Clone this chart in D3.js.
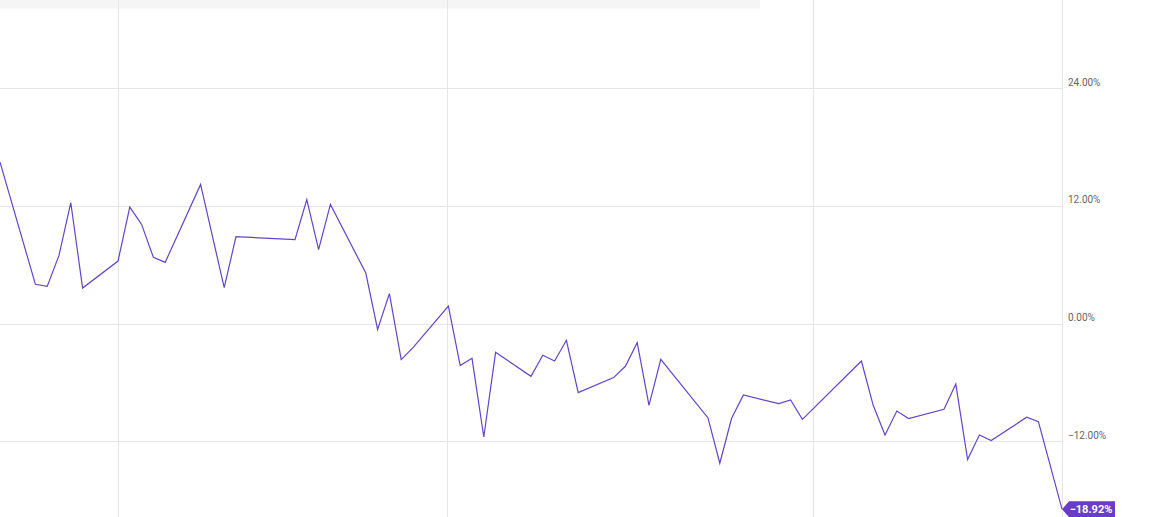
<!DOCTYPE html>
<html>
<head>
<meta charset="utf-8">
<script src="https://cdn.jsdelivr.net/npm/d3@7"></script>
<style>
  html, body { margin: 0; padding: 0; background: #fff; }
  svg { display: block; font-family: Roboto, "Noto Sans", sans-serif; }
</style>
</head>
<body>
<svg id="chart" width="1162" height="517"></svg>
<script>
// Week index of each visible vertex of the series
const weeks = [0, 3, 4, 5, 6, 7, 10, 11, 12, 13, 14, 17, 19, 20, 25, 26, 27, 28, 31, 32,
  33, 34, 35, 38, 39, 40, 41, 42, 45, 46, 47, 48, 49, 52, 53, 54, 55, 56, 60, 61,
  62, 63, 66, 67, 68, 73, 74, 75, 76, 77, 80, 81, 82, 83, 84, 87, 88, 90];
// Percent change values (%)
const values = [16.47, 4.01, 3.80, 6.96, 12.33, 3.63, 6.38, 11.89, 10.12, 6.76, 6.25, 14.20, 3.67, 8.87, 8.56, 12.64, 7.54, 12.16, 5.16, -0.58,
  3.06, -3.67, -2.45, 1.79, -4.28, -3.54, -11.56, -2.93, -5.37, -3.23, -3.81, -1.70, -7.03, -5.50, -4.35, -1.94, -8.33, -3.64, -9.62, -14.24,
  -9.65, -7.28, -8.16, -7.79, -9.76, -3.81, -8.33, -11.36, -8.91, -9.68, -8.74, -6.16, -13.86, -11.36, -11.93, -9.55, -9.99, -18.92];
const yTicks = [24, 12, 0, -12];
const xGridWeeks = [10, 37.9, 68.9];
const xDomain = [0, 90];
const yDomain = [-12, 24];

const W = 1162, H = 517;
const plotRight = 1062;
const svg = d3.select("#chart");

const x = d3.scaleLinear().domain(xDomain).range([0, plotRight]);
const y = d3.scaleLinear().domain(yDomain).range([441.3, 88.3]);

// header band
svg.append("rect").attr("x", 0).attr("y", 0).attr("width", 760).attr("height", 8.5).attr("fill", "#f5f5f5");

// horizontal grid
svg.append("g").selectAll("line").data(yTicks).join("line")
  .attr("x1", 0).attr("x2", plotRight)
  .attr("y1", d => Math.round(y(d)) + 0.5).attr("y2", d => Math.round(y(d)) + 0.5)
  .attr("stroke", "#e6e6e6").attr("stroke-width", 1);

// vertical grid
svg.append("g").selectAll("line").data(xGridWeeks).join("line")
  .attr("x1", d => Math.round(x(d)) + 0.5).attr("x2", d => Math.round(x(d)) + 0.5)
  .attr("y1", 0).attr("y2", H)
  .attr("stroke", "#e6e6e6").attr("stroke-width", 1);

// right edge of plot
svg.append("line")
  .attr("x1", plotRight + 0.5).attr("x2", plotRight + 0.5).attr("y1", 0).attr("y2", H)
  .attr("stroke", "#e6e6e6").attr("stroke-width", 1);

// y axis labels
svg.append("g").selectAll("text").data(yTicks).join("text")
  .attr("x", plotRight + 6).attr("y", d => y(d) - 2.5)
  .attr("font-size", 10).attr("fill", "#666")
  .text(d => d3.format(".2f")(d) + "%");

// line
const pts = weeks.map((w, i) => [w, values[i]]);
svg.append("path").datum(pts)
  .attr("fill", "none").attr("stroke", "#6345c4").attr("stroke-width", 1.2)
  .attr("stroke-linejoin", "miter")
  .attr("d", d3.line().x(d => x(d[0])).y(d => y(d[1])));

// end label
const lastV = values[values.length - 1];
const ly = y(lastV);
const lx = x(weeks[weeks.length - 1]);
const g = svg.append("g");
const bw = 46, bh = 16;
g.append("path")
  .attr("d", `M${lx},${ly} L${lx + 7},${ly - bh / 2} L${lx + 7 + bw},${ly - bh / 2} L${lx + 7 + bw},${ly + bh / 2} L${lx + 7},${ly + bh / 2} Z`)
  .attr("fill", "#6a3dc8");
g.append("text")
  .attr("x", lx + 7 + bw / 2 - 1).attr("y", ly + 4)
  .attr("text-anchor", "middle").attr("font-size", 11).attr("font-weight", "bold")
  .attr("fill", "#fff").text(d3.format(".2f")(lastV) + "%");
</script>
</body>
</html>
